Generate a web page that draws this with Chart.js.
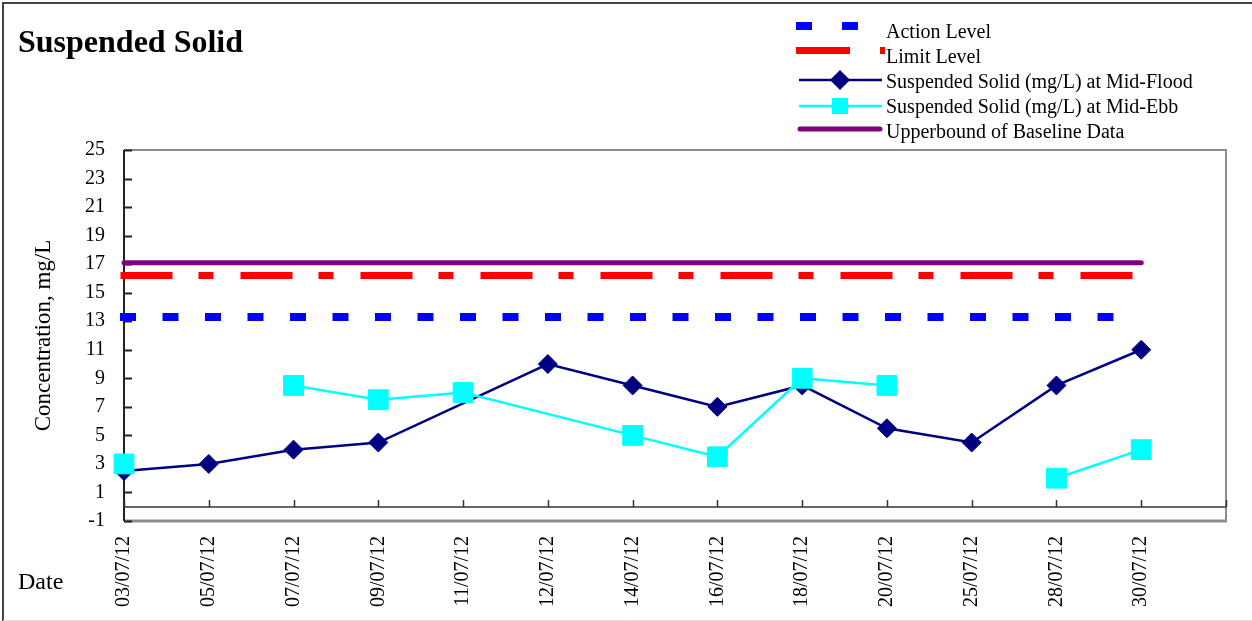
<!DOCTYPE html>
<html>
<head>
<meta charset="utf-8">
<script src="https://cdn.jsdelivr.net/npm/chart.js@4/dist/chart.umd.min.js"></script>
<style>
  body { margin: 0; background: #fff; }
  #wrap { width: 1252px; height: 621px; position: relative; }
</style>
</head>
<body>
<div id="wrap"><canvas id="grafico"></canvas></div>
<script>
const fonte = "'Liberation Serif', 'Times New Roman', serif";

// categorias do eixo x (a ultima fica vazia, como no original)
const datas = ['03/07/12', '05/07/12', '07/07/12', '09/07/12', '11/07/12', '12/07/12', '14/07/12',
  '16/07/12', '18/07/12', '20/07/12', '25/07/12', '28/07/12', '30/07/12', ''];

// Mid-Flood (sem valor em 11/07, a linha passa direto)
const floodDatas = ['03/07/12', '05/07/12', '07/07/12', '09/07/12', '12/07/12', '14/07/12',
  '16/07/12', '18/07/12', '20/07/12', '25/07/12', '28/07/12', '30/07/12'];
const floodValores = [2.5, 3, 4, 4.5, 10, 8.5, 7, 8.5, 5.5, 4.5, 8.5, 11];

// Mid-Ebb (null = linha interrompida; 12/07 ausente = linha continua)
const ebbDatas = ['03/07/12', '05/07/12', '07/07/12', '09/07/12', '11/07/12', '14/07/12',
  '16/07/12', '18/07/12', '20/07/12', '25/07/12', '28/07/12', '30/07/12'];
const ebbValores = [3, null, 8.5, 7.5, 8, 5, 3.5, 9, 8.5, null, 2, 4];

const actionLevel = 13.3;
const limitLevel = 16.2;
const upperbound = 17.1;

const yMin = -1;
const yMax = 25;
const yPasso = 2;

function pontos(listaDatas, valores) {
  return listaDatas.map(function(d, i) { return { x: d, y: valores[i] }; });
}

function nivel(valor) {
  return [{ x: datas[0], y: valor }, { x: datas[datas.length - 2], y: valor }];
}

const molduraPlugin = {
  id: 'moldura',
  beforeDatasetsDraw(chart) {
    const ctx = chart.ctx;
    const a = chart.chartArea;
    const x = chart.scales.x;
    const y = chart.scales.y;
    ctx.save();
    // borda externa
    ctx.strokeStyle = '#444';
    ctx.lineWidth = 2;
    ctx.beginPath();
    ctx.moveTo(3, 621); ctx.lineTo(3, 3); ctx.lineTo(1252, 3);
    ctx.stroke();
    ctx.strokeStyle = '#ddd';
    ctx.lineWidth = 1;
    ctx.beginPath();
    ctx.moveTo(3, 620.5); ctx.lineTo(1252, 620.5);
    ctx.stroke();

    // area do grafico
    ctx.strokeStyle = '#8c8c8c';
    ctx.lineWidth = 2;
    ctx.beginPath();
    ctx.moveTo(a.left, a.top); ctx.lineTo(a.right, a.top); ctx.lineTo(a.right, a.bottom);
    ctx.stroke();
    ctx.lineWidth = 3;
    ctx.beginPath();
    ctx.moveTo(a.left, a.bottom); ctx.lineTo(a.right + 1, a.bottom);
    ctx.stroke();

    // eixo y
    ctx.strokeStyle = '#222';
    ctx.lineWidth = 2;
    ctx.beginPath();
    ctx.moveTo(a.left, a.top); ctx.lineTo(a.left, a.bottom);
    y.ticks.forEach(function(t) {
      const py = Math.round(y.getPixelForValue(t.value)) + 0.5;
      ctx.moveTo(a.left, py); ctx.lineTo(a.left + 8, py);
    });
    ctx.stroke();

    // linha do zero com as marcas
    const y0 = Math.round(y.getPixelForValue(0));
    ctx.strokeStyle = '#333';
    ctx.lineWidth = 1.5;
    ctx.beginPath();
    ctx.moveTo(a.left, y0); ctx.lineTo(a.right, y0);
    ctx.stroke();
    ctx.lineWidth = 1.5;
    ctx.beginPath();
    datas.forEach(function(d, i) {
      const px = Math.round(x.getPixelForValue(i)) + 0.5;
      ctx.moveTo(px, y0); ctx.lineTo(px, y0 - 7);
    });
    ctx.stroke();
    ctx.restore();
  },
  afterDraw(chart) {
    const ctx = chart.ctx;
    ctx.save();
    ctx.fillStyle = '#000';
    ctx.textBaseline = 'alphabetic';
    ctx.font = 'bold 32px ' + fonte;
    ctx.fillText('Suspended Solid', 18, 52);
    ctx.font = '24px ' + fonte;
    ctx.fillText('Date', 18, 589);

    // legenda
    ctx.fillStyle = '#0000ff';
    ctx.fillRect(796, 22, 16, 8);
    ctx.fillRect(842, 22, 16, 8);
    ctx.fillStyle = '#ff0000';
    ctx.fillRect(796, 47, 54, 7);
    ctx.fillRect(880, 47, 5, 7);

    ctx.strokeStyle = '#000080';
    ctx.lineWidth = 2.5;
    ctx.beginPath(); ctx.moveTo(799, 80); ctx.lineTo(882, 80); ctx.stroke();
    ctx.fillStyle = '#000080';
    ctx.beginPath();
    ctx.moveTo(830, 80); ctx.lineTo(840, 70); ctx.lineTo(850, 80); ctx.lineTo(840, 90);
    ctx.closePath(); ctx.fill();

    ctx.strokeStyle = '#00ffff';
    ctx.beginPath(); ctx.moveTo(799, 106); ctx.lineTo(882, 106); ctx.stroke();
    ctx.fillStyle = '#00ffff';
    ctx.fillRect(832, 98, 16, 16);

    ctx.strokeStyle = '#800080';
    ctx.lineWidth = 5;
    ctx.lineCap = 'round';
    ctx.beginPath(); ctx.moveTo(800, 129); ctx.lineTo(880, 129); ctx.stroke();

    ctx.fillStyle = '#000';
    ctx.font = '20px ' + fonte;
    ctx.fillText('Action Level', 886, 38);
    ctx.fillText('Limit Level', 886, 63);
    ctx.fillText('Suspended Solid (mg/L) at Mid-Flood', 886, 88);
    ctx.fillText('Suspended Solid (mg/L) at Mid-Ebb', 886, 113);
    ctx.fillText('Upperbound of Baseline Data', 886, 138);
    ctx.restore();
  }
};

const ctx = document.getElementById('grafico').getContext('2d');
new Chart(ctx, {
  type: 'line',
  data: {
    labels: datas,
    datasets: [
      {
        label: 'Action Level',
        data: nivel(actionLevel),
        borderColor: '#0000ff',
        borderWidth: 8,
        borderDash: [8, 34.5],
        borderCapStyle: 'square',
        pointRadius: 0,
        clip: false,
        order: 4
      },
      {
        label: 'Limit Level',
        data: nivel(limitLevel),
        borderColor: '#ff0000',
        borderWidth: 7,
        borderDash: [45, 33, 8, 34],
        borderCapStyle: 'square',
        pointRadius: 0,
        clip: false,
        order: 3
      },
      {
        label: 'Suspended Solid (mg/L) at Mid-Flood',
        data: pontos(floodDatas, floodValores),
        borderColor: '#000080',
        backgroundColor: '#000080',
        borderWidth: 2.5,
        pointStyle: 'rectRot',
        pointRadius: 9.5,
        pointBorderWidth: 1,
        clip: false,
        order: 1
      },
      {
        label: 'Suspended Solid (mg/L) at Mid-Ebb',
        data: pontos(ebbDatas, ebbValores),
        borderColor: '#00ffff',
        backgroundColor: '#00ffff',
        borderWidth: 2.5,
        pointStyle: 'rect',
        pointRadius: 14,
        pointBorderWidth: 1,
        clip: false,
        order: 0
      },
      {
        label: 'Upperbound of Baseline Data',
        data: nivel(upperbound),
        borderColor: '#800080',
        borderWidth: 5,
        borderCapStyle: 'round',
        pointRadius: 0,
        clip: false,
        order: 2
      }
    ]
  },
  options: {
    responsive: true,
    maintainAspectRatio: false,
    animation: false,
    layout: { padding: { top: 150, right: 26, left: 0, bottom: 0 } },
    plugins: {
      legend: { display: false },
      tooltip: { enabled: false }
    },
    scales: {
      x: {
        type: 'category',
        offset: false,
        grid: { display: false, drawTicks: false },
        border: { display: false },
        ticks: {
          autoSkip: false,
          minRotation: 90,
          maxRotation: 90,
          padding: 15,
          color: '#000',
          font: { family: fonte, size: 20 }
        },
        afterFit: function(scale) {
          scale.height = 100;
          scale.paddingLeft = 0;
          scale.paddingRight = 0;
        }
      },
      y: {
        min: yMin,
        max: yMax,
        grid: { display: false, drawTicks: false },
        border: { display: false },
        ticks: {
          stepSize: yPasso,
          padding: 19,
          color: '#000',
          font: { family: fonte, size: 20 }
        },
        title: {
          display: true,
          text: 'Concentration, mg/L',
          color: '#000',
          font: { family: fonte, size: 23 },
          padding: { top: 30, bottom: 0 }
        },
        afterFit: function(scale) {
          scale.width = 124;
          scale.paddingTop = 0;
          scale.paddingBottom = 0;
        }
      }
    }
  },
  plugins: [molduraPlugin]
});
</script>
</body>
</html>
